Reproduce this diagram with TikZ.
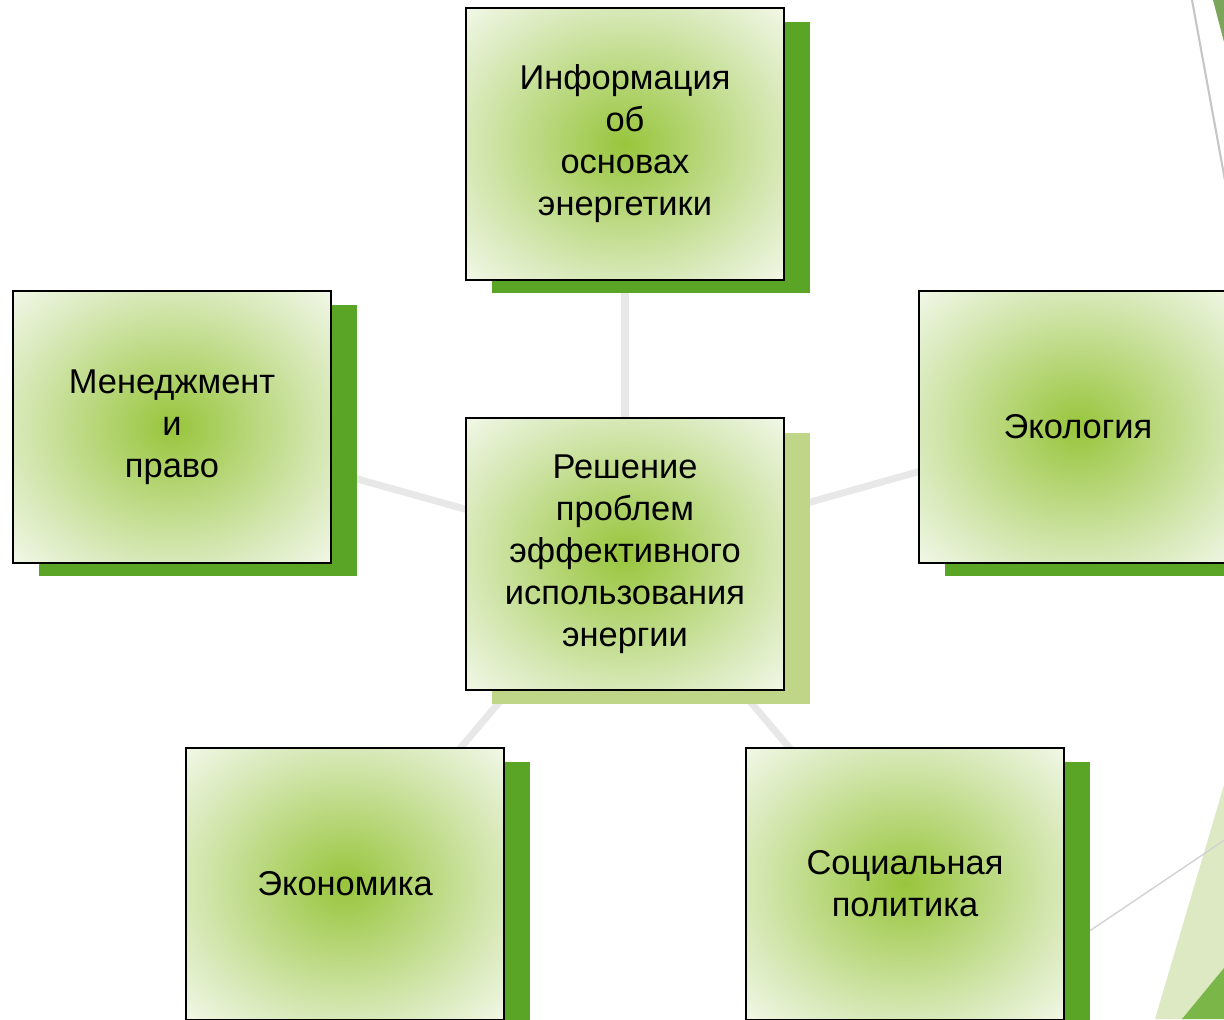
\documentclass[tikz,border=0pt]{standalone}
\usepackage{fontspec}
\setmainfont{Liberation Sans}
\usetikzlibrary{positioning,shadows,backgrounds}
\definecolor{glowmid}{HTML}{98C53C}
\definecolor{glowedge}{HTML}{D8E9B9}
\definecolor{glowcorner}{HTML}{F3F8EA}
\definecolor{shdark}{HTML}{5AA526}
\definecolor{shlight}{HTML}{BFD689}
\definecolor{linkgray}{HTML}{E8E8E8}
\definecolor{decolight}{HTML}{DDE9C2}
\definecolor{decodark}{HTML}{7AB648}
\definecolor{decotop}{HTML}{7CA55C}
\pgfdeclareradialshading{boxglow}{\pgfpoint{0bp}{0bp}}{color(0bp)=(glowmid); color(25bp)=(glowedge); color(36bp)=(glowcorner); color(50bp)=(glowcorner)}

\begin{document}
\begin{tikzpicture}[
  x=0.02cm, y=-0.02cm,
  basebox/.style={draw=black,line width=1pt,shading=boxglow,align=center,inner sep=0pt,
    minimum width=6.36cm,minimum height=5.44cm,font=\fontsize{19.6}{23.9}\selectfont},
  topic/.style={basebox,drop shadow={shadow xshift=0.52cm,shadow yshift=-0.27cm,fill=shdark,opacity=1}},
  hub/.style={basebox,drop shadow={shadow xshift=0.52cm,shadow yshift=-0.29cm,fill=shlight,opacity=1}},
  link/.style={linkgray,line width=4pt}
]
  \useasboundingbox (0,0) rectangle (1224,1019);
  \node[topic] (osnovy) at (625,144) {Информация\\об\\основах\\энергетики};
  \node[topic] (pravo) at (172,427) {Менеджмент\\и\\право};
  \node[topic] (ekologia) at (1078,427) {Экология};
  \node[topic] (ekonomika) at (345,884) {Экономика};
  \node[topic] (socpol) at (905,884) {Социальная\\политика};
  \node[hub] (reshenie) at (625,554) {Решение\\проблем\\эффективного\\использования\\энергии};
  \begin{scope}[on background layer]
    \fill[decolight] (1155,1019) -- (1224,785) -- (1224,1019) -- cycle;
    \fill[decodark] (1182,1019) -- (1224,968) -- (1224,1019) -- cycle;
    \fill[decotop] (1213,0) -- (1224,0) -- (1224,42) -- cycle;
    \draw[gray!45,line width=1.2pt] (1192,0) -- (1226,186);
    \draw[gray!35,line width=0.8pt] (1088,932) -- (1226,839);
    \foreach \t in {osnovy,pravo,ekologia,ekonomika,socpol}
      \draw[link] (reshenie.center) -- (\t.center);
  \end{scope}
\end{tikzpicture}
\end{document}
